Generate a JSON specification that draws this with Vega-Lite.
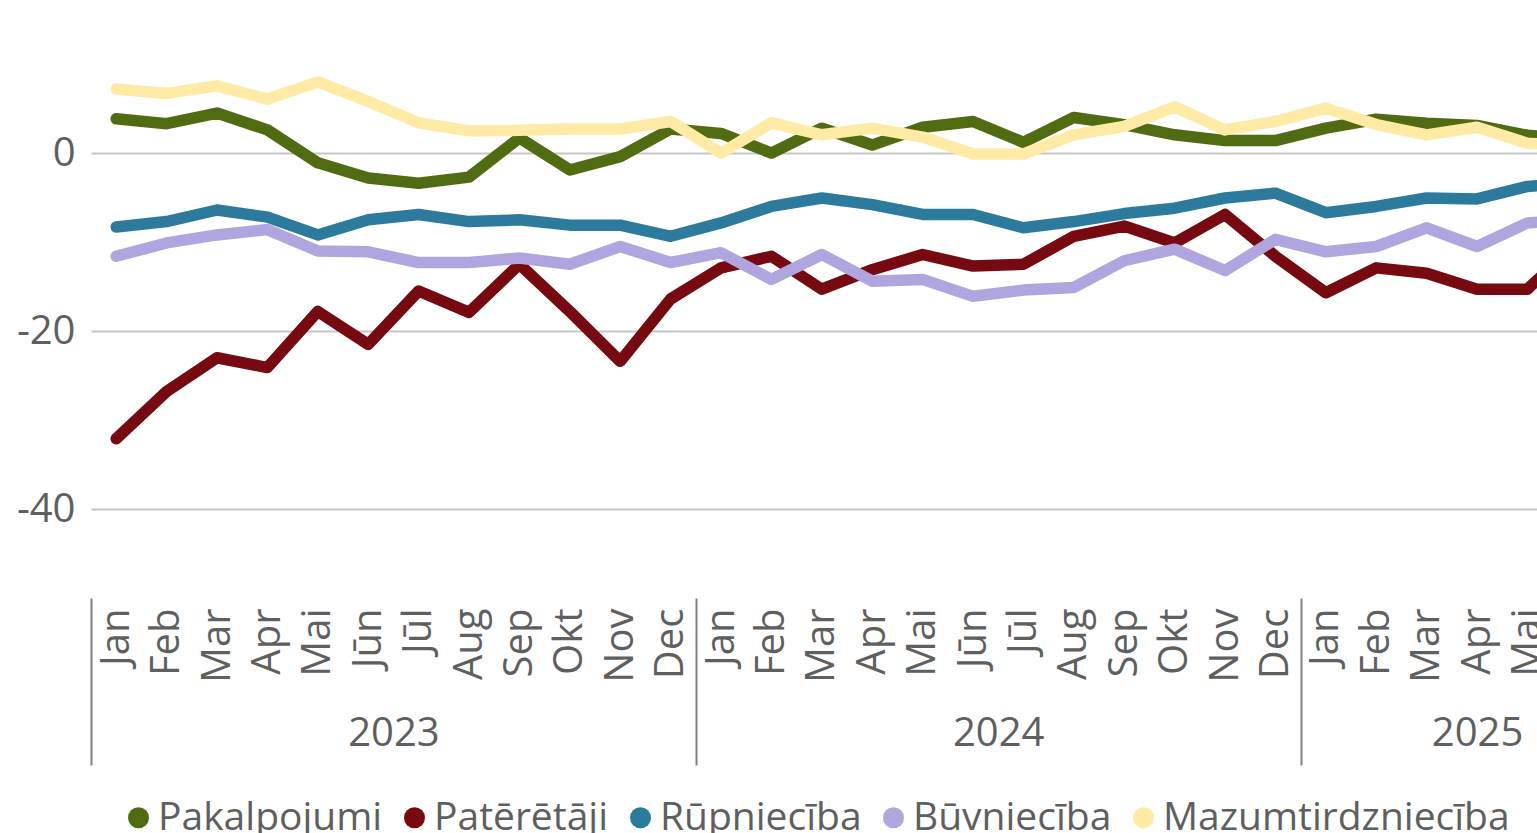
{
  "$schema": "https://vega.github.io/schema/vega-lite/v6.json",
  "width": 1446,
  "height": 598,
  "autosize": {"type": "none"},
  "padding": {"left": 91, "top": 0, "right": 0, "bottom": 235},
  "background": "white",
  "config": {"font": "Open Sans", "view": {"stroke": null}},
  "data": {
    "values": [
      {"i": 0, "Pakalpojumi": 3.85, "Patērētāji": -32.1, "Rūpniecība": -8.3, "Būvniecība": -11.6, "Mazumtirdzniecība": 7.2},
      {"i": 1, "Pakalpojumi": 3.3, "Patērētāji": -26.8, "Rūpniecība": -7.7, "Būvniecība": -10.1, "Mazumtirdzniecība": 6.7},
      {"i": 2, "Pakalpojumi": 4.5, "Patērētāji": -23.0, "Rūpniecība": -6.4, "Būvniecība": -9.2, "Mazumtirdzniecība": 7.55},
      {"i": 3, "Pakalpojumi": 2.6, "Patērētāji": -24.1, "Rūpniecība": -7.2, "Būvniecība": -8.6, "Mazumtirdzniecība": 6.06},
      {"i": 4, "Pakalpojumi": -1.1, "Patērētāji": -17.8, "Rūpniecība": -9.2, "Būvniecība": -11.0, "Mazumtirdzniecība": 8.0},
      {"i": 5, "Pakalpojumi": -2.8, "Patērētāji": -21.5, "Rūpniecība": -7.5, "Būvniecība": -11.1, "Mazumtirdzniecība": 5.8},
      {"i": 6, "Pakalpojumi": -3.4, "Patērētāji": -15.5, "Rūpniecība": -6.9, "Būvniecība": -12.3, "Mazumtirdzniecība": 3.4},
      {"i": 7, "Pakalpojumi": -2.7, "Patērētāji": -17.9, "Rūpniecība": -7.7, "Būvniecība": -12.3, "Mazumtirdzniecība": 2.5},
      {"i": 8, "Pakalpojumi": 1.7, "Patērētāji": -12.5, "Rūpniecība": -7.5, "Būvniecība": -11.8, "Mazumtirdzniecība": 2.55},
      {"i": 9, "Pakalpojumi": -1.9, "Patērētāji": -17.8, "Rūpniecība": -8.1, "Būvniecība": -12.5, "Mazumtirdzniecība": 2.7},
      {"i": 10, "Pakalpojumi": -0.4, "Patērētāji": -23.4, "Rūpniecība": -8.1, "Būvniecība": -10.5, "Mazumtirdzniecība": 2.7},
      {"i": 11, "Pakalpojumi": 2.7, "Patērētāji": -16.4, "Rūpniecība": -9.35, "Būvniecība": -12.3, "Mazumtirdzniecība": 3.55},
      {"i": 12, "Pakalpojumi": 2.2, "Patērētāji": -12.9, "Rūpniecība": -7.85, "Būvniecība": -11.2, "Mazumtirdzniecība": 0.0},
      {"i": 13, "Pakalpojumi": 0.0, "Patērētāji": -11.6, "Rūpniecība": -6.0, "Būvniecība": -14.2, "Mazumtirdzniecība": 3.4},
      {"i": 14, "Pakalpojumi": 2.8, "Patērētāji": -15.3, "Rūpniecība": -5.05, "Būvniecība": -11.4, "Mazumtirdzniecība": 2.05},
      {"i": 15, "Pakalpojumi": 0.9, "Patērētāji": -13.1, "Rūpniecība": -5.8, "Būvniecība": -14.4, "Mazumtirdzniecība": 2.8},
      {"i": 16, "Pakalpojumi": 2.9, "Patērētāji": -11.4, "Rūpniecība": -6.9, "Būvniecība": -14.2, "Mazumtirdzniecība": 1.8},
      {"i": 17, "Pakalpojumi": 3.55, "Patērētāji": -12.7, "Rūpniecība": -6.9, "Būvniecība": -16.1, "Mazumtirdzniecība": -0.1},
      {"i": 18, "Pakalpojumi": 1.2, "Patērētāji": -12.5, "Rūpniecība": -8.4, "Būvniecība": -15.4, "Mazumtirdzniecība": -0.1},
      {"i": 19, "Pakalpojumi": 4.0, "Patērētāji": -9.35, "Rūpniecība": -7.7, "Būvniecība": -15.1, "Mazumtirdzniecība": 2.05},
      {"i": 20, "Pakalpojumi": 3.2, "Patērētāji": -8.2, "Rūpniecība": -6.8, "Būvniecība": -12.1, "Mazumtirdzniecība": 3.0},
      {"i": 21, "Pakalpojumi": 2.05, "Patērētāji": -10.1, "Rūpniecība": -6.2, "Būvniecība": -10.8, "Mazumtirdzniecība": 5.2},
      {"i": 22, "Pakalpojumi": 1.4, "Patērētāji": -6.9, "Rūpniecība": -5.05, "Būvniecība": -13.2, "Mazumtirdzniecība": 2.6},
      {"i": 23, "Pakalpojumi": 1.4, "Patērētāji": -11.6, "Rūpniecība": -4.5, "Būvniecība": -9.7, "Mazumtirdzniecība": 3.55},
      {"i": 24, "Pakalpojumi": 2.8, "Patērētāji": -15.7, "Rūpniecība": -6.7, "Būvniecība": -11.1, "Mazumtirdzniecība": 5.05},
      {"i": 25, "Pakalpojumi": 3.8, "Patērētāji": -12.9, "Rūpniecība": -6.0, "Būvniecība": -10.5, "Mazumtirdzniecība": 3.2},
      {"i": 26, "Pakalpojumi": 3.35, "Patērētāji": -13.5, "Rūpniecība": -5.05, "Būvniecība": -8.4, "Mazumtirdzniecība": 2.05},
      {"i": 27, "Pakalpojumi": 3.1, "Patērētāji": -15.3, "Rūpniecība": -5.15, "Būvniecība": -10.5, "Mazumtirdzniecība": 2.9},
      {"i": 28, "Pakalpojumi": 2.0, "Patērētāji": -15.3, "Rūpniecība": -3.75, "Būvniecība": -7.85, "Mazumtirdzniecība": 1.1},
      {"i": 29, "Pakalpojumi": 1.5, "Patērētāji": -10.0, "Rūpniecība": -3.3, "Būvniecība": -7.5, "Mazumtirdzniecība": 0.8}
    ]
  },
  "layer": [
    {
      "transform": [
        {"fold": ["Pakalpojumi", "Patērētāji", "Rūpniecība", "Būvniecība", "Mazumtirdzniecība"], "as": ["series", "v"]}
      ],
      "mark": {"type": "line", "strokeWidth": 11.5, "strokeCap": "round", "strokeJoin": "round", "clip": true},
      "encoding": {
        "x": {
          "field": "i",
          "type": "quantitative",
          "scale": {"domain": [-0.5, 28.19], "nice": false, "zero": false},
          "axis": {
            "orient": "bottom",
            "values": [0, 1, 2, 3, 4, 5, 6, 7, 8, 9, 10, 11, 12, 13, 14, 15, 16, 17, 18, 19, 20, 21, 22, 23, 24, 25, 26, 27, 28],
            "labelExpr": "['Jan','Feb','Mar','Apr','Mai','Jūn','Jūl','Aug','Sep','Okt','Nov','Dec'][datum.value % 12]",
            "labelAngle": 270,
            "labelFontSize": 40,
            "labelColor": "#5f5f5f",
            "labelPadding": 10,
            "labelFlush": false,
            "labelOverlap": false,
            "domain": false,
            "ticks": false,
            "tickSize": 0,
            "grid": false,
            "title": null
          }
        },
        "y": {
          "field": "v",
          "type": "quantitative",
          "scale": {"domain": [-50, 17.2], "nice": false, "zero": false},
          "axis": {
            "values": [0, -20, -40],
            "labelExpr": "'' + datum.value",
            "labelFontSize": 40,
            "labelColor": "#5f5f5f",
            "labelPadding": 16,
            "domain": false,
            "ticks": false,
            "tickSize": 0,
            "grid": true,
            "gridColor": "#c6c6c6",
            "gridWidth": 2,
            "title": null
          }
        },
        "color": {
          "field": "series",
          "type": "nominal",
          "scale": {
            "domain": ["Pakalpojumi", "Patērētāji", "Rūpniecība", "Būvniecība", "Mazumtirdzniecība"],
            "range": ["#516b13", "#760a10", "#2c7b9c", "#b0a5de", "#ffeba5"]
          },
          "legend": {
            "orient": "none",
            "legendX": 28,
            "legendY": 798,
            "direction": "horizontal",
            "title": null,
            "symbolType": "circle",
            "symbolSize": 441,
            "symbolStrokeWidth": 0,
            "labelFontSize": 39,
            "labelColor": "#5f5f5f",
            "labelOffset": 0,
            "columnPadding": 12,
            "padding": 0,
            "labelLimit": 0,
            "encode": {
              "symbols": {"update": {"fill": {"scale": "color", "field": "value"}, "strokeWidth": {"value": 0}, "opacity": {"value": 1}}}
            }
          }
        }
      }
    },
    {
      "mark": {"type": "point", "opacity": 0},
      "encoding": {
        "x": {
          "field": "i",
          "type": "quantitative",
          "axis": {
            "orient": "bottom",
            "values": [-0.5, 11.5, 23.5],
            "labels": false,
            "domain": false,
            "ticks": true,
            "tickSize": 167,
            "tickColor": "#808080",
            "tickWidth": 2,
            "grid": false,
            "title": null
          }
        }
      }
    },
    {
      "mark": {"type": "point", "opacity": 0},
      "encoding": {
        "x": {
          "field": "i",
          "type": "quantitative",
          "axis": {
            "orient": "bottom",
            "values": [5.5, 17.5, 27],
            "labelExpr": "toString(2023 + floor(datum.value / 12))",
            "labelFontSize": 40,
            "labelColor": "#5f5f5f",
            "labelPadding": 135,
            "labelBaseline": "middle",
            "labelFlush": false,
            "labelOverlap": false,
            "domain": false,
            "ticks": false,
            "tickSize": 0,
            "grid": false,
            "title": null
          }
        }
      }
    }
  ],
  "resolve": {"axis": {"x": "independent"}}
}
